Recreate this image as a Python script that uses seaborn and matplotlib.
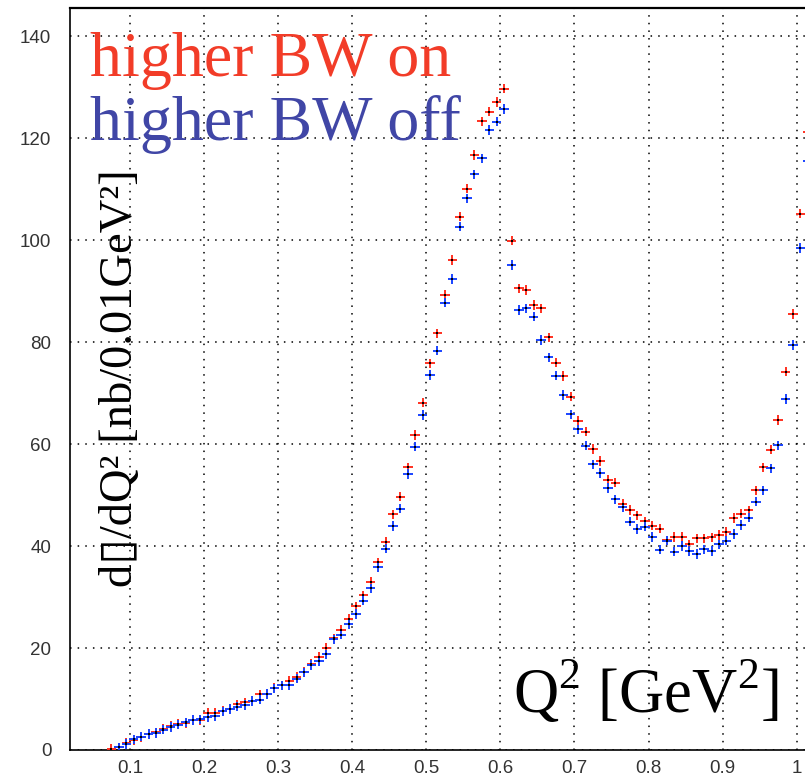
import numpy as np
import pandas as pd
import matplotlib
matplotlib.use("Agg")
import matplotlib.pyplot as plt
import seaborn as sns
from matplotlib.ticker import MultipleLocator, FixedLocator

# ---------------- data ----------------
q2 = [0.075, 0.085, 0.095, 0.105, 0.115, 0.125, 0.135, 0.145, 0.155, 0.165,
      0.175, 0.185, 0.195, 0.205, 0.215, 0.225, 0.235, 0.245, 0.255, 0.265,
      0.275, 0.285, 0.295, 0.305, 0.315, 0.325, 0.335, 0.345, 0.355, 0.365,
      0.375, 0.385, 0.395, 0.405, 0.415, 0.425, 0.435, 0.445, 0.455, 0.465,
      0.475, 0.485, 0.495, 0.505, 0.515, 0.525, 0.535, 0.545, 0.555, 0.565,
      0.575, 0.585, 0.595, 0.605, 0.615, 0.625, 0.635, 0.645, 0.655, 0.665,
      0.675, 0.685, 0.695, 0.705, 0.715, 0.725, 0.735, 0.745, 0.755, 0.765,
      0.775, 0.785, 0.795, 0.805, 0.815, 0.825, 0.835, 0.845, 0.855, 0.865,
      0.875, 0.885, 0.895, 0.905, 0.915, 0.925, 0.935, 0.945, 0.955, 0.965,
      0.975, 0.985, 0.995, 1.005, 1.015]

bw_on = [0.2, 0.5, 1.4, 2.0, 2.5, 3.1, 3.45, 4.1, 4.7, 5.1,
         5.3, 5.9, 5.9, 7.3, 7.3, 7.7, 8.1, 8.95, 9.35, 9.7,
         10.9, 11.0, 12.2, 12.7, 13.6, 14.3, 15.3, 16.9, 18.2, 20.0,
         21.9, 23.5, 25.7, 28.15, 30.3, 33.0, 36.8, 40.8, 46.2, 49.7,
         55.4, 61.8, 68.1, 75.8, 81.7, 89.2, 96.1, 104.6, 110.1, 116.7,
         123.3, 125.2, 127.1, 129.7, 99.9, 90.5, 90.2, 87.25, 86.6, 80.9,
         75.95, 73.3, 69.3, 64.6, 62.4, 59.0, 56.7, 53.0, 52.4, 48.2,
         47.1, 46.0, 44.85, 44.0, 43.4, 41.1, 41.8, 41.8, 40.35, 41.5,
         41.5, 41.7, 42.2, 42.75, 45.5, 46.35, 47.0, 50.9, 55.4, 58.9,
         64.7, 74.2, 85.5, 105.2, 121.1]

bw_off = [np.nan, 0.5, 1.2, 2.1, 2.6, 3.1, 3.3, 4.0, 4.5, 5.0,
          5.4, 5.9, 6.0, 6.4, 6.7, 7.6, 8.0, 8.5, 8.8, 9.6,
          9.9, 11.0, 12.1, 12.7, 12.7, 14.0, 15.2, 16.7, 17.45, 18.75,
          21.7, 22.6, 24.7, 26.7, 29.3, 31.7, 35.85, 39.5, 43.9, 47.3,
          54.1, 59.5, 65.7, 73.5, 78.3, 87.7, 92.4, 102.6, 108.2, 112.9,
          116.0, 121.6, 123.2, 125.7, 95.1, 86.3, 86.6, 84.95, 80.4, 77.0,
          73.4, 69.6, 65.8, 62.9, 59.7, 56.0, 54.3, 51.4, 49.15, 47.6,
          44.8, 43.3, 43.8, 41.8, 39.3, 41.05, 38.9, 40.0, 39.05, 38.4,
          39.35, 39.05, 40.3, 41.05, 42.35, 44.1, 45.55, 48.7, 50.9, 55.2,
          59.75, 68.8, 79.4, 98.4, 115.5]

series_names = ["higher BW on", "higher BW off"]
series_colors = ["#ff3020", "#1a44ff"]
text_colors = ["#f23c28", "#4046a6"]

x_major = [0.1, 0.2, 0.3, 0.4, 0.5, 0.6, 0.7, 0.8, 0.9, 1.0]
x_labels = ["0.1", "0.2", "0.3", "0.4", "0.5", "0.6", "0.7", "0.8", "0.9", "1"]
y_major = [0, 20, 40, 60, 80, 100, 120, 140]
y_labels = ["0", "20", "40", "60", "80", "100", "120", "140"]

ylabel_text = "d\u25af/dQ\u00b2 [nb/0.01GeV\u00b2]"
xlabel_text = "Q$^\\mathregular{2}$ [GeV$^\\mathregular{2}$]"

# ---------------- figure ----------------
sns.set_style("white")
plt.rcParams["font.family"] = ["Liberation Sans", "DejaVu Sans"]
plt.rcParams["mathtext.fontset"] = "custom"
plt.rcParams["mathtext.rm"] = "Liberation Serif"

W, H = 805, 776
fig = plt.figure(figsize=(W / 100, H / 100), dpi=100)
ax = fig.add_axes([70 / W, 26 / H, 735 / W, 742 / H])

df = pd.concat([
    pd.DataFrame({"Q2": q2, "dsigma": bw_on, "set": series_names[0]}),
    pd.DataFrame({"Q2": q2, "dsigma": bw_off, "set": series_names[1]}),
], ignore_index=True).dropna()

pal = dict(zip(series_names, series_colors))
sns.scatterplot(data=df, x="Q2", y="dsigma", hue="set", palette=pal,
                hue_order=series_names, marker="+", s=46, linewidth=1.4,
                legend=False, ax=ax, zorder=3)
sns.scatterplot(data=df, x="Q2", y="dsigma", color="black", marker="s",
                s=1.5, linewidth=0, legend=False, ax=ax, zorder=4)

ax.set_xlim(0.019, 1.0112)
ax.set_ylim(0, 145.5)

ax.xaxis.set_major_locator(FixedLocator(x_major))
ax.set_xticklabels(x_labels)
ax.xaxis.set_minor_locator(MultipleLocator(0.02))
ax.yaxis.set_major_locator(FixedLocator(y_major))
ax.set_yticklabels(y_labels)
ax.yaxis.set_minor_locator(MultipleLocator(5))

ax.tick_params(which="both", direction="in", top=False, right=False,
               color="black", width=0.9)
ax.tick_params(which="major", length=8.8)
ax.tick_params(which="minor", length=5.8)
ax.tick_params(axis="x", which="major", pad=7.5, labelsize=13.5, labelcolor="#333333")
ax.tick_params(axis="y", which="major", pad=13.5, labelsize=13.5, labelcolor="#333333")

ax.grid(True, which="major", color="black", linestyle=(0, (1, 4)), linewidth=1.1)
ax.set_axisbelow(True)

for side in ["left", "bottom"]:
    ax.spines[side].set_color("black")
    ax.spines[side].set_linewidth(1.2)
ax.spines["top"].set_color("black")
ax.spines["top"].set_linewidth(1.6)
ax.spines["right"].set_visible(False)

ax.set_xlabel("")
ax.set_ylabel("")

# legend-like coloured texts
fig.text(90 / W, 1 - 76 / H, series_names[0], color=text_colors[0], fontsize=46,
         family="Liberation Serif", ha="left", va="baseline")
fig.text(90 / W, 1 - 140 / H, series_names[1], color=text_colors[1], fontsize=46,
         family="Liberation Serif", ha="left", va="baseline")

# axis titles
fig.text(132 / W, 1 - 378.5 / H, ylabel_text, rotation=90, rotation_mode="anchor",
         ha="center", va="baseline", fontsize=33.5, color="black",
         family=["Liberation Serif", "DejaVu Sans"])
fig.text(779 / W, 1 - 713 / H, xlabel_text, ha="right", va="baseline",
         fontsize=45, color="black", family="Liberation Serif")

fig.savefig("out.png", dpi=100)
